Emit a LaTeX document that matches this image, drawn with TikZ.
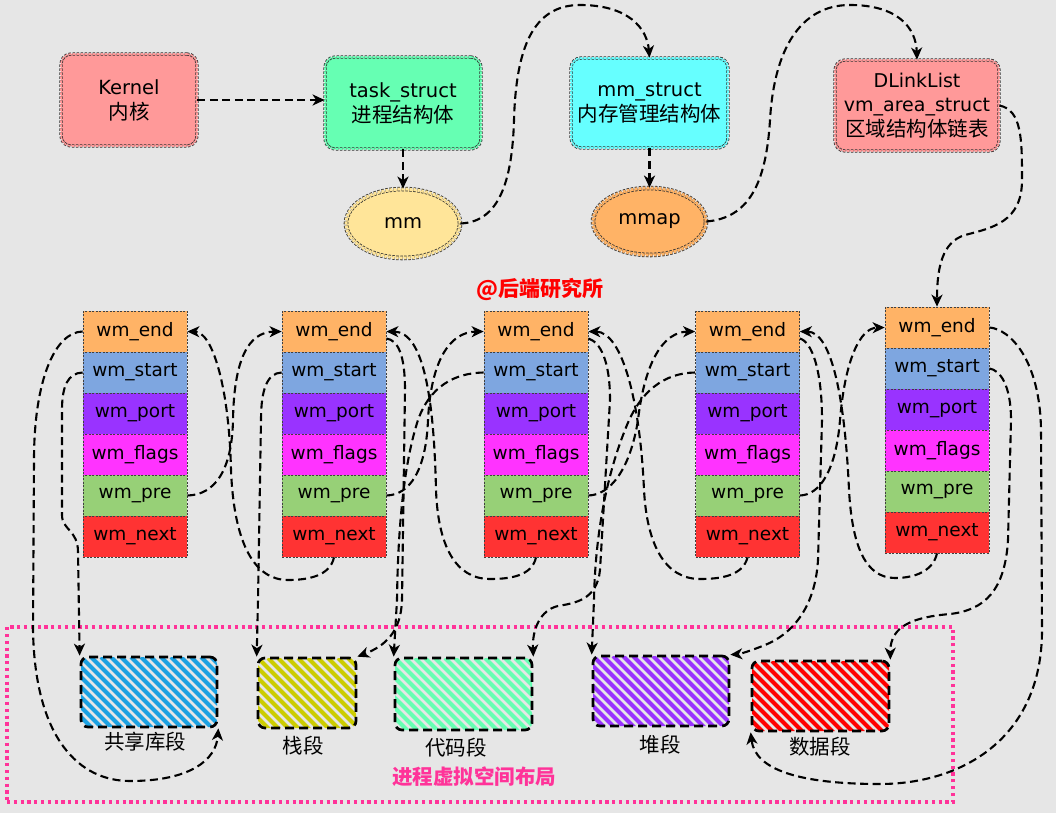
\documentclass[tikz,border=0pt]{standalone}
\usepackage{fontspec}
\setmainfont{DejaVu Sans}
\newfontfamily\cjk{Noto Sans CJK SC}
\usetikzlibrary{arrows.meta,shapes.geometric,calc}
\definecolor{bg}{HTML}{E6E6E6}
\definecolor{cK}{HTML}{FF9999}
\definecolor{cTask}{HTML}{66FFB3}
\definecolor{cMM}{HTML}{FFE599}
\definecolor{cMMS}{HTML}{66FFFF}
\definecolor{cMmap}{HTML}{FFB366}
\definecolor{cEnd}{HTML}{FFB366}
\definecolor{cStart}{HTML}{7EA6E0}
\definecolor{cPort}{HTML}{9933FF}
\definecolor{cFlags}{HTML}{FF33FF}
\definecolor{cPre}{HTML}{97D077}
\definecolor{cNext}{HTML}{FF3333}
\definecolor{cShared}{HTML}{1BA1E2}
\definecolor{cStack}{HTML}{CCCC00}
\definecolor{cCode}{HTML}{66FFB3}
\definecolor{cHeap}{HTML}{9933FF}
\definecolor{cData}{HTML}{FF0000}
\definecolor{cPink}{HTML}{FF3399}
\begin{document}
\begin{tikzpicture}[x=1pt,y=-1pt,
  conn/.style={draw=black, line width=2.1pt, dash pattern=on 8pt off 4.5pt,
    -{Stealth[length=12pt,width=11pt,inset=3.5pt]}},
  topbox/.style={rectangle, rounded corners=10pt, draw=black!80, line width=0.8pt,
    dash pattern=on 2.5pt off 1.5pt, double distance=1.6pt, inner sep=2pt, align=center,
    font=\fontsize{19.5}{25}\selectfont},
  topell/.style={ellipse, draw=black!80, line width=0.8pt, dash pattern=on 2.5pt off 1.5pt,
    double distance=3pt, inner sep=0pt, font=\fontsize{19.5}{22}\selectfont},
  cell/.style={rectangle, draw=black!75, line width=0.7pt, dash pattern=on 2pt off 1.5pt,
    minimum width=104pt, minimum height=41pt, inner sep=0pt, font=\fontsize{18.5}{20}\selectfont},
  seg/.style={rectangle, rounded corners=7pt, draw=black, line width=2.7pt,
    dash pattern=on 9pt off 5pt, inner sep=0pt},
  hatch/.style={path picture={
    \foreach \i in {-90,-80,...,150}{
      \draw[#1, solid, line width=4pt] ([xshift=\i pt]path picture bounding box.north west) -- ++(100pt,-100pt);
    }}},
  seglabel/.style={font=\cjk\fontsize{20.5}{22}\selectfont, inner sep=0pt}
]
\useasboundingbox (0,0) rectangle (1056,813);
\fill[bg] (0,0) rectangle (1056,813);

% top nodes
\node[topbox, fill=cK, double=cK, minimum width=136pt, minimum height=92pt] (kernel) at (129,100) {Kernel\\{\cjk\fontsize{20.5}{25}\selectfont 内核}};
\node[topbox, fill=cTask, double=cTask, minimum width=156pt, minimum height=92pt] (task) at (403,103) {task\_struct\\{\cjk\fontsize{20.5}{25}\selectfont 进程结构体}};
\node[topell, fill=cMM, double=cMM, minimum width=114pt, minimum height=69pt] (mm) at (403,223.5) {mm};
\node[topbox, fill=cMMS, double=cMMS, minimum width=157pt, minimum height=90pt] (mms) at (649.5,103) {mm\_struct\\{\cjk\fontsize{20.5}{25}\selectfont 内存管理结构体}};
\node[topell, fill=cMmap, double=cMmap, minimum width=113pt, minimum height=67pt] (mmap) at (649.5,221.5) {mmap};
\node[topbox, fill=cK, double=cK, minimum width=164pt, minimum height=91pt, inner sep=0pt,
  font=\fontsize{19}{24.5}\selectfont] (dl) at (917,105.5) {DLinkList\\vm\_area\_struct\\{\cjk\fontsize{20.5}{24.5}\selectfont 区域结构体链表}};

\node[text=red, font=\cjk\bfseries\fontsize{21}{22}\selectfont] (wmark) at (540,289) {@后端研究所};

% columns
\foreach \c/\x/\t in {1/135/311,2/334/311,3/536/311,4/747.5/311,5/937/307}{
  \node[cell,fill=cEnd]   (e\c)  at (\x,\t+20.5)  {wm\_end};
  \node[cell,fill=cStart] (s\c)  at (\x,\t+61.5)  {wm\_start};
  \node[cell,fill=cPort]  (po\c) at (\x,\t+102.5) {wm\_port};
  \node[cell,fill=cFlags] (f\c)  at (\x,\t+143.5) {wm\_flags};
  \node[cell,fill=cPre]   (pr\c) at (\x,\t+184.5) {wm\_pre};
  \node[cell,fill=cNext]  (n\c)  at (\x,\t+225.5) {wm\_next};
}

% virtual space box
\node[draw=cPink, line width=3.2pt, dash pattern=on 3.2pt off 3.6pt, minimum width=946pt,
  minimum height=175pt, inner sep=0pt] (vbox) at (480,714.5) {};
\node[text=cPink, font=\cjk\bfseries\fontsize{20.5}{22}\selectfont] (vlabel) at (474,777) {进程虚拟空间布局};

% segments
\node[seg, hatch=cShared, minimum width=136pt, minimum height=70pt] (shared) at (149,692) {};
\node[seg, hatch=cStack, minimum width=98pt, minimum height=70pt] (stack) at (307,693) {};
\node[seg, hatch=cCode, minimum width=137pt, minimum height=72pt] (code) at (463.5,694) {};
\node[seg, hatch=cHeap, minimum width=136pt, minimum height=70pt] (heap) at (661,691) {};
\node[seg, hatch=cData, minimum width=137pt, minimum height=70pt] (data) at (820.5,696) {};
\node[seglabel] (lshared) at (145,742) {共享库段};
\node[seglabel] (lstack) at (303,746) {栈段};
\node[seglabel] (lcode) at (456,748) {代码段};
\node[seglabel] (lheap) at (660,745) {堆段};
\node[seglabel] (ldata) at (820,747) {数据段};

% top connectors
\draw[conn] (kernel.east) -- (task.west |- kernel.east);
\draw[conn] (task.south) -- (mm.north);
\draw[conn] (mm.east) .. controls (495,222) and (512,190) .. (514,120)
  .. controls (516,50) and (532,5) .. (580,5) .. controls (628,5) and (647,28) .. (mms.north);
\draw[conn] (mms.south) -- (mmap.north);
\draw[conn] (mmap.east) .. controls (748,218) and (766,185) .. (770,120)
  .. controls (774,50) and (800,5) .. (850,5) .. controls (898,5) and (916,28) .. (dl.north);
\draw[conn] (dl.east) .. controls (1022,110) and (1022,140) .. (1022,180)
  .. controls (1022,222) and (992,228) .. (965,235) .. controls (942,242) and (937,268) .. (e5.north);

% column 1
\draw[conn] (e1.west) .. controls (55,332) and (34,380) .. (34,460) -- (33,630)
  .. controls (35,740) and (80,781) .. (130,781) .. controls (190,781) and (216,760) .. (shared.south east);
\draw[conn] (s1.west) .. controls (68,373) and (62,386) .. (62,410) -- (62,515)
  .. controls (62,530) and (78,530) .. (78,552) -- (shared.north west);
\draw[conn] (pr1.east) .. controls (215,495) and (232,470) .. (233,420)
  .. controls (234,360) and (248,332) .. (e2.west);
% column 2
\draw[conn] (n2.south) .. controls (330,576) and (308,580) .. (288,580)
  .. controls (255,580) and (234,545) .. (231,470) .. controls (229,385) and (212,332) .. (e1.east);
\draw[conn] (s2.west) .. controls (267,373) and (261,390) .. (261,420) -- (258,600) -- (stack.north west);
\draw[conn] ([yshift=-7pt]e2.east) .. controls (398,340) and (405,355) .. (405,390) -- (402,600)
  .. controls (401,632) and (385,646) .. (stack.north east);
\draw[conn] (pr2.east) .. controls (410,495) and (426,470) .. (428,420)
  .. controls (431,360) and (450,332) .. (e3.west);
% column 3
\draw[conn] (n3.south) .. controls (532,576) and (510,579) .. (490,579)
  .. controls (455,579) and (438,545) .. (436,490) .. controls (434,400) and (424,332) .. (e2.east);
\draw[conn] (s3.west) .. controls (455,373) and (430,386) .. (418,420)
  .. controls (405,460) and (398,520) .. (397,600) -- (code.north west);
\draw[conn] ([yshift=-7pt]e3.east) .. controls (600,342) and (610,360) .. (610,400) -- (600,570)
  .. controls (597,600) and (575,603) .. (558,606) .. controls (540,610) and (532,630) .. (code.north east);
\draw[conn] (pr3.east) .. controls (610,495) and (630,470) .. (638,420)
  .. controls (645,360) and (664,332) .. (e4.west);
% column 4
\draw[conn] (n4.south) .. controls (743,576) and (720,579) .. (700,579)
  .. controls (665,579) and (647,545) .. (644,490) .. controls (640,400) and (622,332) .. (e3.east);
\draw[conn] (s4.west) .. controls (665,373) and (640,390) .. (625,430)
  .. controls (605,480) and (595,540) .. (594,600) -- (heap.north west);
\draw[conn] ([yshift=-7pt]e4.east) .. controls (812,342) and (822,370) .. (822,420) -- (818,560)
  .. controls (815,610) and (790,635) .. (765,645) .. controls (750,651) and (740,654) .. (heap.north east);
\draw[conn] (pr4.east) .. controls (820,495) and (836,470) .. (840,420)
  .. controls (845,360) and (860,328) .. (e5.west);
% column 5
\draw[conn] (n5.south) .. controls (933,571) and (915,578) .. (895,578)
  .. controls (865,578) and (852,545) .. (849,490) .. controls (845,400) and (832,332) .. (e4.east);
\draw[conn] (s5.east) .. controls (1000,370) and (1011,385) .. (1011,420) -- (1008,540)
  .. controls (1005,590) and (985,610) .. (950,614) .. controls (915,617) and (890,625) .. (data.north east);
\draw[conn] (e5.east) .. controls (1010,329) and (1040,360) .. (1041,430) -- (1042,630)
  .. controls (1042,740) and (960,784) .. (880,784) .. controls (800,784) and (755,770) .. (data.south west);
\end{tikzpicture}
\end{document}
